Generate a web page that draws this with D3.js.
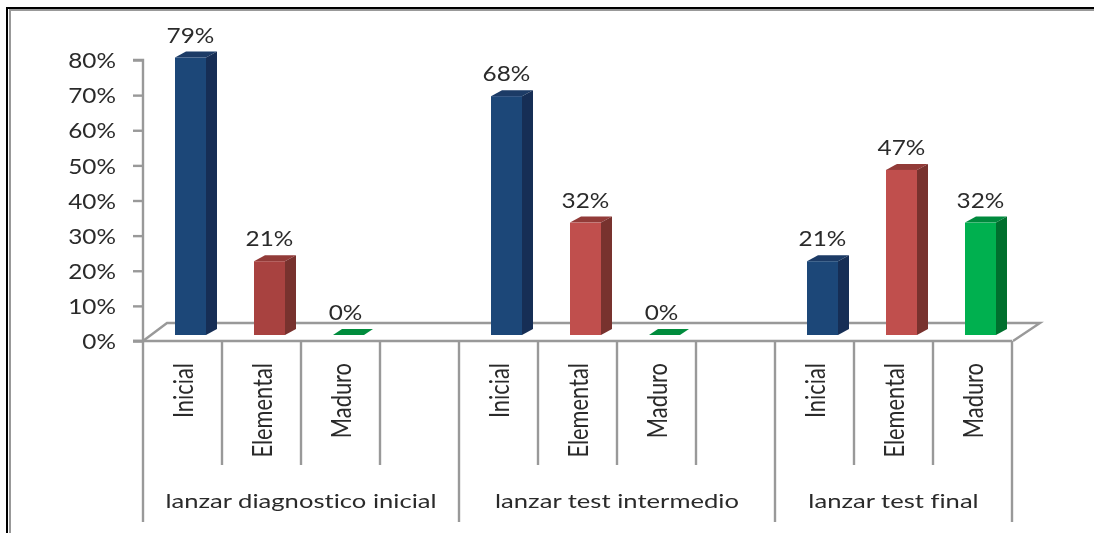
<!DOCTYPE html>
<html>
<head>
<meta charset="utf-8">
<script src="https://cdn.jsdelivr.net/npm/d3@7/dist/d3.min.js"></script>
<style>
html, body { margin: 0; padding: 0; background: #fff; overflow: hidden; }
text { font-family: Lato, sans-serif; fill: #2b2b2b; font-variant-ligatures: none; }
.grey { stroke: #999; stroke-width: 2.4; fill: none; }
</style>
</head>
<body>
<svg id="chart" width="1094" height="533"></svg>
<script>
var groups = ["lanzar diagnostico inicial", "lanzar test intermedio", "lanzar test final"];
var levels = ["Inicial", "Elemental", "Maduro"];
var diagnostico = [79, 21, 0];
var intermedio = [68, 32, 0];
var final = [21, 47, 32];
var yTicks = [0, 10, 20, 30, 40, 50, 60, 70, 80];

var seriesValues = [diagnostico, intermedio, final];

var svg = d3.select("#chart");
var chart = svg.append("g");

var defs = svg.append("defs");
defs.append("filter").attr("id", "soft")
    .attr("x", "-5%").attr("y", "-5%").attr("width", "110%").attr("height", "110%")
    .append("feGaussianBlur").attr("stdDeviation", 0.45);
chart.attr("filter", "url(#soft)");

// frame, only top and left in the picture
var frame = svg.append("g");
frame.append("rect").attr("x", 6).attr("y", 7).attr("width", 1088).attr("height", 2).attr("fill", "#000");
frame.append("rect").attr("x", 6).attr("y", 7).attr("width", 2).attr("height", 526).attr("fill", "#000");
frame.append("rect").attr("x", 9).attr("y", 9).attr("width", 1085).attr("height", 2).attr("fill", "#999");
frame.append("rect").attr("x", 9).attr("y", 9).attr("width", 2).attr("height", 524).attr("fill", "#999");

// one slot per bar, plus a blank slot between groups
var slots = [];
var bars = [];
groups.forEach(function(g, gi) {
    levels.forEach(function(l, li) {
        var key = gi + "-" + li;
        slots.push(key);
        bars.push({key: key, group: gi, level: li, name: l, value: seriesValues[gi][li]});
    });
    if (gi < groups.length - 1) slots.push(gi + "-blank");
});

var x = d3.scaleBand().domain(slots).range([143, 1012]);
var y = d3.scaleLinear().domain([0, 80]).range([341, 60]);

var barOffset = 32, barWidth = 31, sideX = 11, sideY = 6;
var wide = 1.16; // the picture is stretched sideways
var wideGroup = 1.28;

var colors = d3.scaleOrdinal().domain(levels).range(["#1e4678", "#c0504d", "#00b050"]);
var sides = d3.scaleOrdinal().domain(levels).range(["#172f54", "#78302e", "#00702f"]);
var tops = d3.scaleOrdinal().domain(levels).range(["#1a3a66", "#923b39", "#008a3e"]);

// floor
chart.append("path").attr("class", "grey")
    .attr("d", "M143,341 L167,323 L1040,323 L1013,341");

// y axis
var yAxis = d3.axisLeft(y).tickValues(yTicks).tickSize(10).tickPadding(17)
    .tickFormat(function(d) { return d + "%"; });
var yG = chart.append("g").attr("transform", "translate(143,0)").call(yAxis);
yG.select(".domain").attr("class", "grey").attr("d", "M-10,60 H0 V341 H-10");
yG.selectAll(".tick line").attr("stroke", "#999").attr("stroke-width", 2.4);
yG.selectAll("text").attr("font-size", 21).style("font-family", "Lato").style("fill", "#2b2b2b")
    .attr("transform", function() {
        return "translate(" + (d3.select(this).attr("x")) + ",1) scale(" + wide + ",1) translate(" + (-d3.select(this).attr("x")) + ",0)";
    });

// category lines
chart.append("line").attr("class", "grey").attr("x1", 133).attr("x2", x.range()[1]).attr("y1", y(0)).attr("y2", y(0));
slots.forEach(function(s, i) {
    if (i === 0) return;
    var isGroupEdge = /blank/.test(slots[i - 1]);
    chart.append("line").attr("class", "grey")
        .attr("x1", x(s)).attr("x2", x(s))
        .attr("y1", y(0)).attr("y2", isGroupEdge ? 522 : 465);
});
[143, 1012].forEach(function(px) {
    chart.append("line").attr("class", "grey").attr("x1", px).attr("x2", px).attr("y1", y(0)).attr("y2", 522);
});

// bars
var bar = chart.selectAll(".bar").data(bars).enter().append("g").attr("class", "bar");

bar.filter(function(d) { return d.value > 0; }).each(function(d) {
    var g = d3.select(this);
    var left = x(d.key) + barOffset, right = left + barWidth;
    var bottom = y(0) - sideY, top = y(d.value) - sideY;
    // first red bar is a shade darker in the picture
    var face = (d.group === 0 && d.level === 1) ? "#a8423f" : colors(d.name);
    g.append("path").attr("fill", tops(d.name))
        .attr("d", "M" + left + "," + top + " L" + (left + sideX) + "," + (top - sideY) +
            " L" + (right + sideX) + "," + (top - sideY) + " L" + right + "," + top + "Z");
    g.append("path").attr("fill", sides(d.name))
        .attr("d", "M" + right + "," + top + " L" + (right + sideX) + "," + (top - sideY) +
            " L" + (right + sideX) + "," + (bottom - sideY) + " L" + right + "," + bottom + "Z");
    g.append("rect").attr("x", left).attr("y", top).attr("width", barWidth).attr("height", bottom - top)
        .attr("fill", face);
});

// zero bars only show the top face
bar.filter(function(d) { return d.value === 0; }).append("path")
    .attr("fill", "#008c3c")
    .attr("d", function(d) {
        var left = x(d.key) + barOffset, bottom = y(0) - sideY;
        return "M" + left + "," + bottom + " L" + (left + 9) + "," + (bottom - sideY) +
            " L" + (left + 40) + "," + (bottom - sideY) + " L" + (left + 31) + "," + bottom + "Z";
    });

// value labels
bar.append("text")
    .attr("text-anchor", "middle")
    .attr("font-size", 21)
    .attr("transform", function(d) {
        return "translate(" + (x(d.key) + barOffset + barWidth / 2 + (d.value === 0 ? -3 : 0)) + "," +
            (y(d.value) - sideY * 2 - 9) + ") scale(" + wide + ",1)";
    })
    .text(function(d) { return d.value + "%"; });

// rotated level labels
bar.append("text")
    .attr("text-anchor", "end")
    .attr("font-size", 27)
    .attr("transform", function(d) {
        return "translate(" + (x(d.key) + x.bandwidth() / 2 + 10) + ",363) rotate(-90) scale(0.81,1)";
    })
    .text(function(d) { return d.name; });

// group labels
chart.selectAll(".group").data(groups).enter().append("text")
    .attr("class", "group")
    .attr("text-anchor", "middle")
    .attr("font-size", 20)
    .attr("transform", function(d, i) {
        var first = x(i + "-0");
        var last = x(i + "-2") + x.bandwidth();
        var mid = i < 2 ? (first + last + x.bandwidth()) / 2 : (first + last) / 2;
        return "translate(" + mid + ",508) scale(" + wideGroup + ",1)";
    })
    .text(function(d) { return d; });
</script>
</body>
</html>
